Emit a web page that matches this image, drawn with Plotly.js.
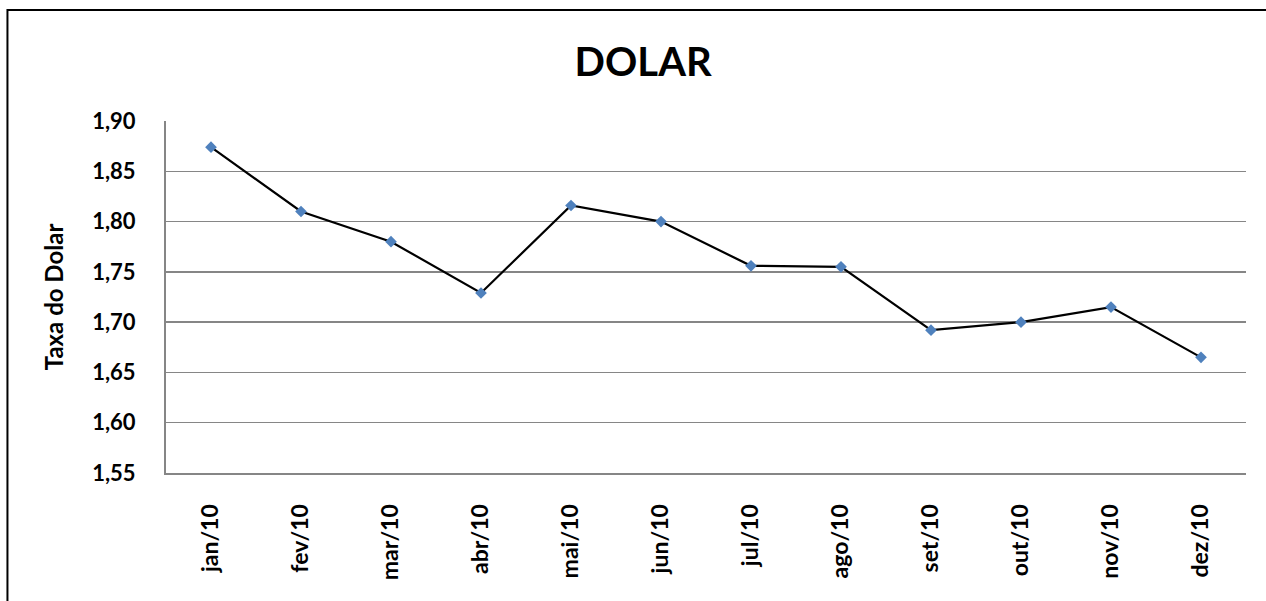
<!DOCTYPE html>
<html>
<head>
<meta charset="utf-8">
<script src="https://cdn.plot.ly/plotly-3.0.1.min.js"></script>
<style>
html,body{margin:0;padding:0;background:#fff;}
#chart{width:1266px;height:601px;}
</style>
</head>
<body>
<div id="chart"></div>
<script>
const months = ["jan/10","fev/10","mar/10","abr/10","mai/10","jun/10","jul/10","ago/10","set/10","out/10","nov/10","dez/10"];
const dolar = [1.874, 1.810, 1.780, 1.729, 1.816, 1.800, 1.756, 1.755, 1.692, 1.700, 1.715, 1.665];
const yTicks = [1.55, 1.60, 1.65, 1.70, 1.75, 1.80, 1.85, 1.90];
const yTickText = yTicks.map(v => v.toFixed(2).replace(".", ","));

const fontFam = "Lato, 'Open Sans', sans-serif";

const trace = {
  x: months,
  y: dolar,
  type: "scatter",
  mode: "lines+markers",
  line: {color: "#000000", width: 2.2},
  marker: {symbol: "diamond", size: 9, color: "#4F81BD"},
  hoverinfo: "x+y"
};

const layout = {
  width: 1266,
  height: 601,
  margin: {l: 166, r: 20, t: 121, b: 128},
  paper_bgcolor: "#ffffff",
  plot_bgcolor: "#ffffff",
  showlegend: false,
  title: {
    text: "DOLAR",
    font: {family: fontFam, size: 40, color: "#000", weight: "bold"},
    x: 0.508, xanchor: "center",
    y: 0.897, yanchor: "middle"
  },
  xaxis: {
    type: "category",
    range: [-0.5, 11.5],
    showgrid: false,
    showline: true,
    linecolor: "#868686",
    linewidth: 2,
    ticks: "",
    tickangle: -90,
    ticklabelstandoff: 20,
    tickfont: {family: fontFam, size: 23, color: "#000", weight: "bold"}
  },
  yaxis: {
    range: [1.55, 1.90],
    tickvals: yTicks,
    ticktext: yTickText,
    showgrid: true,
    gridcolor: "#868686",
    gridwidth: 1.5,
    showline: true,
    linecolor: "#868686",
    linewidth: 2,
    ticks: "",
    zeroline: false,
    ticklabelstandoff: 24,
    tickfont: {family: fontFam, size: 22, color: "#000", weight: "bold"},
    title: {text: "Taxa do Dolar", font: {family: fontFam, size: 24, color: "#000", weight: "bold"}, standoff: 22}
  },
  shapes: [
    {type: "rect", xref: "paper", yref: "paper", x0: -0.1468, x1: 1.05, y0: -0.4, y1: 1.315,
     line: {color: "#000", width: 2}, fillcolor: "rgba(0,0,0,0)", layer: "above"}
  ],
  annotations: [
    {text: "Gráfico 1", xref: "paper", yref: "paper", x: -0.142, y: 1.321,
     xanchor: "left", yanchor: "bottom", showarrow: false,
     font: {family: "'Liberation Serif', serif", size: 32, color: "#000", weight: "bold"}}
  ]
};

Plotly.newPlot("chart", [trace], layout, {displayModeBar: false, staticPlot: true});
</script>
</body>
</html>
